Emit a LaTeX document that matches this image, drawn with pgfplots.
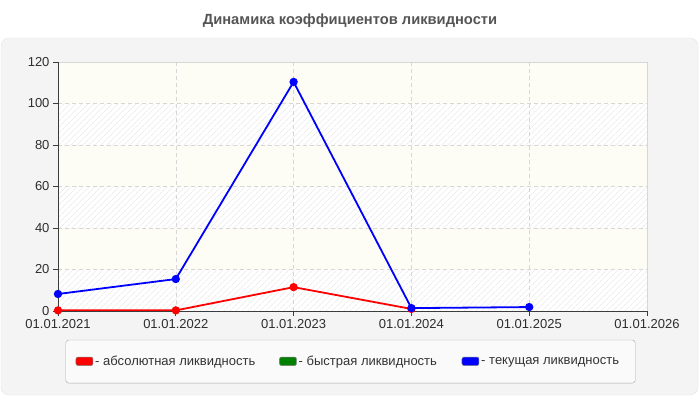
\documentclass[border=0pt]{standalone}
\usepackage{fontspec}
\setmainfont{Liberation Sans}
\usepackage{pgfplots}
\pgfplotsset{compat=1.18}
\usetikzlibrary{patterns.meta}

\definecolor{panelbg}{RGB}{244,244,244}
\definecolor{panelline}{RGB}{228,228,228}
\definecolor{bandyellow}{RGB}{253,253,245}
\definecolor{hatch}{RGB}{236,236,236}
\definecolor{titlegray}{RGB}{85,85,85}
\definecolor{axisgray}{RGB}{60,60,60}
\definecolor{gridgray}{RGB}{215,215,215}
\definecolor{legbg}{RGB}{250,250,250}
\definecolor{legline}{RGB}{170,170,170}
\definecolor{cred}{RGB}{255,0,0}
\definecolor{cgreen}{RGB}{0,128,0}
\definecolor{cblue}{RGB}{0,0,255}

\tikzset{hatched/.style={pattern={Lines[angle=45, distance=4pt, line width=0.7pt]}, pattern color=hatch}}

\begin{document}
\begin{tikzpicture}
\path (0pt,0pt) rectangle (700pt,400pt);
% panel
\draw[panelline, fill=panelbg, rounded corners=8pt] (1pt,5pt) rectangle (698pt,362pt);
% title
\node[font=\fontsize{14.7}{17}\selectfont\bfseries, text=titlegray] at (350pt,379pt) {Динамика коэффициентов ликвидности};

% plot area: alternating plain and hatched bands, 20 units (41.5pt) each
\fill[white] (58pt,89pt) rectangle (647pt,338pt);
\fill[hatched] (58pt,89pt) rectangle (647pt,130.5pt);
\fill[bandyellow] (58pt,130.5pt) rectangle (647pt,172pt);
\fill[hatched] (58pt,172pt) rectangle (647pt,213.5pt);
\fill[bandyellow] (58pt,213.5pt) rectangle (647pt,255pt);
\fill[hatched] (58pt,255pt) rectangle (647pt,296.5pt);
\fill[bandyellow] (58pt,296.5pt) rectangle (647pt,338pt);
\draw[gridgray, line width=0.8pt] (58pt,338pt) -- (647pt,338pt) -- (647pt,89pt);

\begin{axis}[
    at={(58pt,89pt)}, anchor=south west,
    scale only axis,
    width=589pt, height=249pt,
    xmin=0, xmax=5,
    ymin=0, ymax=120,
    xtick={0,1,2,3,4,5},
    xticklabels={01.01.2021,01.01.2022,01.01.2023,01.01.2024,01.01.2025,01.01.2026},
    ytick={0,20,...,120},
    /pgf/number format/assume math mode=true,
    ticklabel style={font=\fontsize{13}{15}\selectfont, text=black!82},
    axis line style={draw=none},
    tick style={axisgray, line width=0.8pt},
    tick align=outside,
    major tick length=5pt,
    xtick pos=bottom, ytick pos=left,
    grid=major,
    major grid style={gridgray, dash pattern=on 4pt off 3pt, line width=0.6pt},
    clip=false,
    legend columns=3,
    legend style={
        at={(0.4966,-0.203)}, anchor=center,
        draw=legline, fill=legbg, rounded corners=3pt,
        font=\fontsize{13}{15}\selectfont, text=black!80,
        inner xsep=10pt, inner ysep=14pt,
        /tikz/every even column/.append style={column sep=0pt},
    },
    legend cell align=left,
]
\addplot[cred, line width=1.8pt, mark=*, mark size=3.2pt,
    legend image code/.code={\draw[fill=cred, draw=gray, rounded corners=2pt, line width=0.5pt] (0pt,-4pt) rectangle (17pt,4.5pt);}]
coordinates {
    (0,0.3) (1,0.3) (2,11.5) (3,1.0)
};
\addlegendentry{\makebox[182pt][l]{- абсолютная ликвидность}}

\addlegendimage{legend image code/.code={\draw[fill=cgreen, draw=gray, rounded corners=2pt, line width=0.5pt] (0pt,-4pt) rectangle (17pt,4.5pt);}}
\addlegendentry{\makebox[161pt][l]{- быстрая ликвидность}}

\addplot[cblue, line width=1.8pt, mark=*, mark size=3.2pt,
    legend image code/.code={\draw[fill=cblue, draw=gray, rounded corners=2pt, line width=0.5pt] (0pt,-4pt) rectangle (17pt,4.5pt);}]
coordinates {
    (0,8.2) (1,15.4) (2,110.4) (3,1.4) (4,1.9)
};
\addlegendentry{\makebox[142pt][l]{- текущая ликвидность}}

% axis lines drawn on top
\draw[axisgray, line width=0.8pt] (axis cs:0,120) -- (axis cs:0,0) -- (axis cs:5,0);
\end{axis}
\end{tikzpicture}
\end{document}
